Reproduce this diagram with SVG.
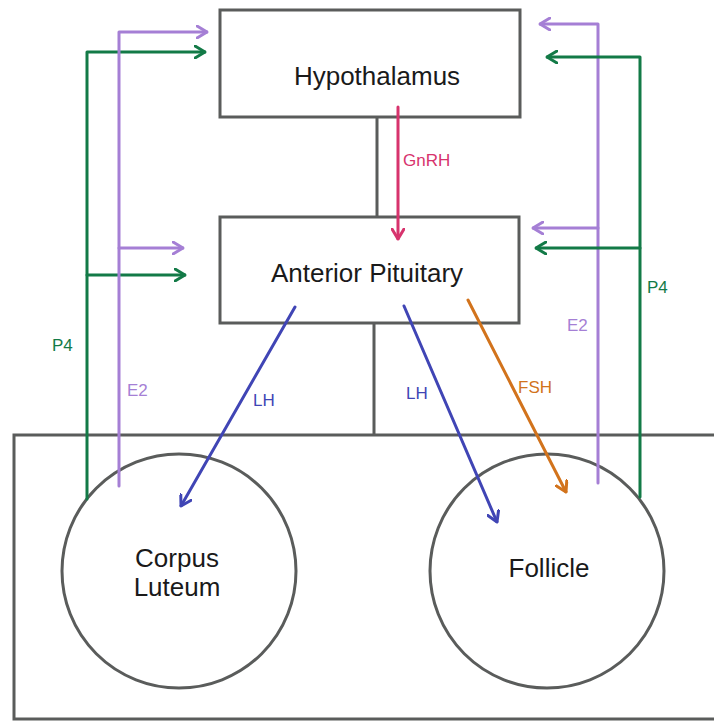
<svg xmlns="http://www.w3.org/2000/svg" width="714" height="721" viewBox="0 0 714 721">
<style>
.box{fill:#fff;stroke:#5a5c5b;stroke-width:3}
.gl{fill:none;stroke:#5a5c5b;stroke-width:3}
.big{font-family:"Liberation Sans",Arial,sans-serif;font-size:26px;fill:#1a1a1a;text-anchor:middle}
.sm{font-family:"Liberation Sans",Arial,sans-serif;font-size:17px}
.c{fill:none;stroke-width:3;stroke-linecap:round;stroke-linejoin:round}
.green{stroke:#137a47}.purple{stroke:#a57fd5}.blue{stroke:#4045b5}.orange{stroke:#d2731c}.pink{stroke:#d7336d}
</style>
<defs>
<marker id="ag" viewBox="0 0 12 14" refX="11" refY="7" markerWidth="12" markerHeight="14" markerUnits="userSpaceOnUse" orient="auto"><path d="M1,1 L11,7 L1,13" fill="none" stroke="#137a47" stroke-width="3" stroke-linecap="round" stroke-linejoin="round"/></marker>
<marker id="ap" viewBox="0 0 12 14" refX="11" refY="7" markerWidth="12" markerHeight="14" markerUnits="userSpaceOnUse" orient="auto"><path d="M1,1 L11,7 L1,13" fill="none" stroke="#a57fd5" stroke-width="3" stroke-linecap="round" stroke-linejoin="round"/></marker>
<marker id="ab" viewBox="0 0 12 14" refX="11" refY="7" markerWidth="12" markerHeight="14" markerUnits="userSpaceOnUse" orient="auto"><path d="M1,1 L11,7 L1,13" fill="none" stroke="#4045b5" stroke-width="3" stroke-linecap="round" stroke-linejoin="round"/></marker>
<marker id="ao" viewBox="0 0 12 14" refX="11" refY="7" markerWidth="12" markerHeight="14" markerUnits="userSpaceOnUse" orient="auto"><path d="M1,1 L11,7 L1,13" fill="none" stroke="#d2731c" stroke-width="3" stroke-linecap="round" stroke-linejoin="round"/></marker>
<marker id="ak" viewBox="0 0 12 14" refX="11" refY="7" markerWidth="12" markerHeight="14" markerUnits="userSpaceOnUse" orient="auto"><path d="M1,1 L11,7 L1,13" fill="none" stroke="#d7336d" stroke-width="3" stroke-linecap="round" stroke-linejoin="round"/></marker>
</defs>
<rect width="714" height="721" fill="#fff"/>
<g id="body">
<rect class="gl" x="14" y="435" width="712" height="284"/>
</g>
<g id="hypothalamus">
<rect class="box" x="220" y="10" width="300" height="107"/>
<text class="big" x="377" y="85">Hypothalamus</text>
</g>
<g id="anterior-pituitary">
<rect class="box" x="220" y="217" width="299" height="106"/>
<text class="big" x="367" y="282">Anterior Pituitary</text>
</g>
<g id="corpus-luteum">
<circle class="box" cx="179" cy="571" r="117"/>
<text class="big" x="177" y="567">Corpus</text>
<text class="big" x="177" y="596">Luteum</text>
</g>
<g id="follicle">
<circle class="box" cx="547" cy="571" r="117"/>
<text class="big" x="549" y="577">Follicle</text>
</g>
<g id="connectors">
<path class="gl" d="M377,117 V217 M374,323 V435"/>
<path class="c pink" d="M398,107 V239" marker-end="url(#ak)"/>
<path class="c green" d="M87,499 V52 H205" marker-end="url(#ag)"/>
<path class="c green" d="M87,275 H185" marker-end="url(#ag)"/>
<path class="c purple" d="M119,486 V32 H207" marker-end="url(#ap)"/>
<path class="c purple" d="M119,248 H183" marker-end="url(#ap)"/>
<path class="c purple" d="M598,483 V24 H540" marker-end="url(#ap)"/>
<path class="c purple" d="M598,228 H533" marker-end="url(#ap)"/>
<path class="c green" d="M640,497 V57 H547" marker-end="url(#ag)"/>
<path class="c green" d="M640,248 H536" marker-end="url(#ag)"/>
<path class="c blue" d="M295,307 L181,506" marker-end="url(#ab)"/>
<path class="c blue" d="M404,306 L497,522" marker-end="url(#ab)"/>
<path class="c orange" d="M468,300 L566,492" marker-end="url(#ao)"/>
<text class="sm" x="403" y="166" fill="#d7336d">GnRH</text>
<text class="sm" x="52" y="351" fill="#137a47">P4</text>
<text class="sm" x="127" y="396" fill="#a57fd5">E2</text>
<text class="sm" x="253" y="406" fill="#4045b5">LH</text>
<text class="sm" x="406" y="399" fill="#4045b5">LH</text>
<text class="sm" x="518" y="393" fill="#d2731c">FSH</text>
<text class="sm" x="567" y="331" fill="#a57fd5">E2</text>
<text class="sm" x="647" y="293" fill="#137a47">P4</text>
</g>
</svg>
